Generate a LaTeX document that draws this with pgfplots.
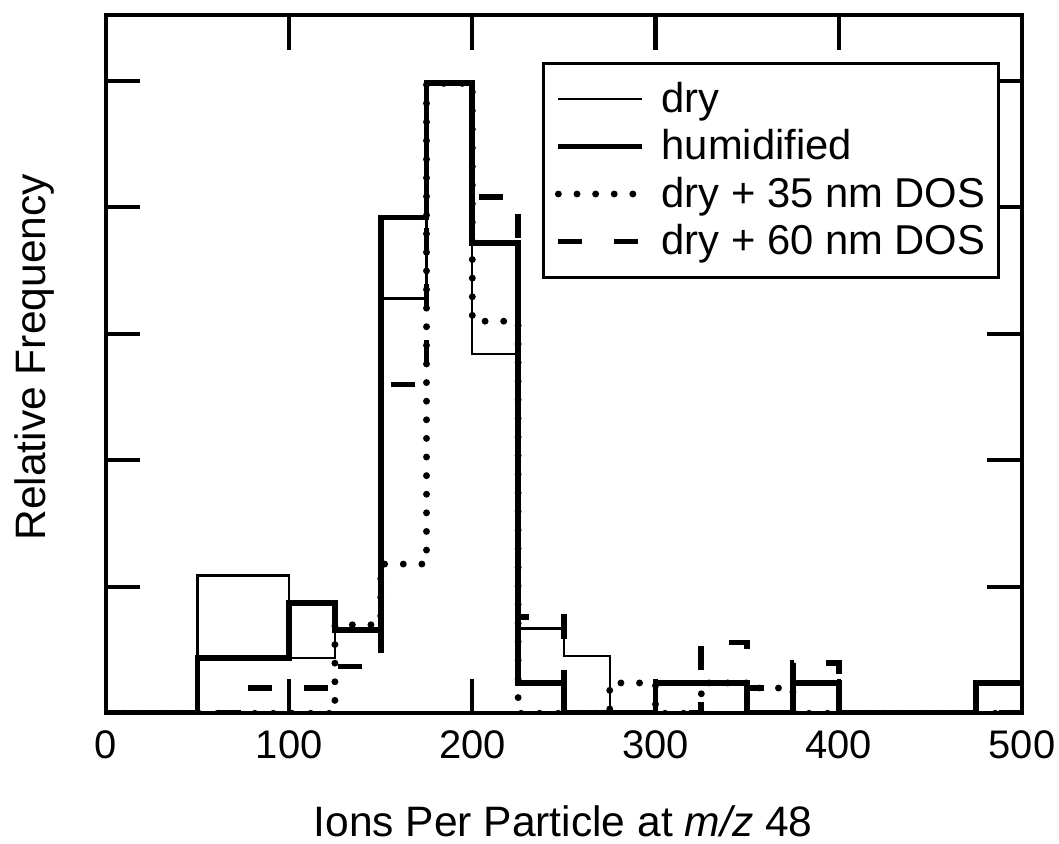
\documentclass[border=0pt]{standalone}
\usepackage{pgfplots}
\pgfplotsset{compat=1.18}
\usepackage{fontspec}
\setmainfont{Liberation Sans}

% histogram values (left bin edge, height); last row closes the final bin
\pgfplotstableread{
x    dry   hum   d35   d60
0    0     0     0     0
25   0     0     0     0
50   5.45  2.2   0     0
75   5.45  2.2   0     1.0
100  2.2   4.35  0     1.0
125  3.3   3.3   3.5   1.85
150  16.4  19.6  5.9   13.0
175  24.9  24.9  24.9  24.9
200  14.2  18.6  15.5  20.4
225  3.35  1.2   0     3.8
250  2.25  0     0     0
275  0     0     1.2   0
300  0     1.2   0     0
325  0     1.2   1.2   2.8
350  0     0     1.0   1.0
375  0     1.2   0     2.0
400  0     0     0     0
425  0     0     0     0
450  0     0     0     0
475  0     1.2   0     0
500  0     1.2   0     0
}\histdata

\begin{document}
\begin{tikzpicture}
\begin{axis}[
    scale only axis,
    width=12.11cm, height=9.23cm,
    xmin=0, xmax=500, ymin=0, ymax=27.6,
    xtick={0,100,...,500},
    ytick={0,5,...,25},
    yticklabels={},
    tick align=inside,
    major tick length=13pt,
    every tick/.style={black, line width=1.6pt},
    axis line style={line width=1.6pt},
    /pgf/number format/assume math mode=true,
    xticklabel style={font=\fontsize{15}{18}\selectfont, yshift=-3pt},
    xlabel={Ions Per Particle at \textit{m/z} 48},
    ylabel={Relative Frequency},
    every axis x label/.style={at={(axis description cs:0.499,-0.176)}, anchor=base, font=\fontsize{16}{19}\selectfont},
    every axis y label/.style={at={(axis description cs:-0.0776,0.51)}, rotate=90, anchor=center, font=\fontsize{16}{19}\selectfont},
    const plot,
    legend style={at={(axis description cs:0.976,0.933)}, anchor=north east,
        draw=black, line width=1pt, font=\fontsize{15.7}{18}\selectfont,
        row sep=1pt, inner xsep=3pt, inner ysep=5pt},
    legend cell align=left,
    legend image code/.code={\path (-0.05cm,0cm) (1.25cm,0cm);
        \draw[#1] (0cm,0cm) -- (1.1cm,0cm);},
]
\addplot[black, line width=0.8pt] table[x=x, y=dry] {\histdata};
\addlegendentry{dry}
\addplot[black, line width=2.2pt] table[x=x, y=hum] {\histdata};
\addlegendentry{humidified}
\addplot[black, line width=2.6pt, line cap=round, dash pattern=on 0pt off 7pt] table[x=x, y=d35] {\histdata};
\addlegendentry{dry + 35 nm DOS}
\addplot[black, line width=2.2pt, dash pattern=on 9pt off 12pt] table[x=x, y=d60] {\histdata};
\addlegendentry{dry + 60 nm DOS}
\end{axis}
\pgfresetboundingbox
\path[use as bounding box] ([xshift=-1.40cm,yshift=-1.72cm]current axis.south west) rectangle ([xshift=0.49cm,yshift=0.2cm]current axis.north east);
\end{tikzpicture}
\end{document}
